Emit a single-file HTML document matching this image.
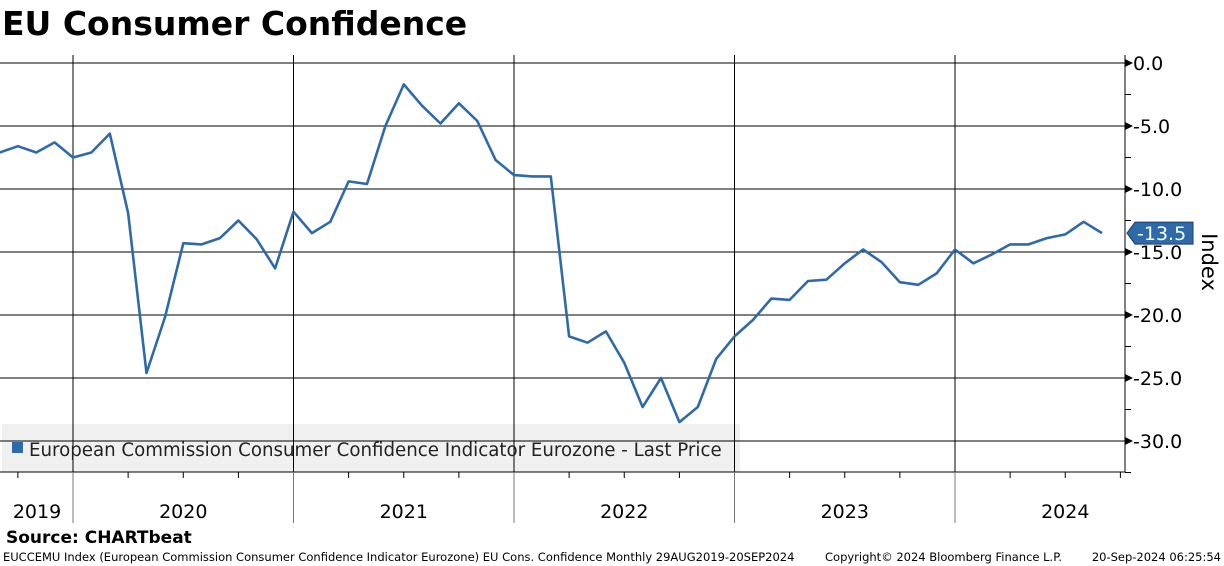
<!DOCTYPE html>
<html><head><meta charset="utf-8"><style>
body{margin:0;background:#fff;width:1224px;height:566px;overflow:hidden;font-family:"DejaVu Sans","Liberation Sans",sans-serif;}
svg{display:block}
</style></head><body>
<svg width="1224" height="566">
<text x="2" y="35" font-size="33" font-weight="bold" font-family="DejaVu Sans, sans-serif">EU Consumer Confidence</text>
<rect x="2" y="424" width="738" height="48" fill="#f0f0f0"/>
<g id="grid"></g>
<g id="xaxis"></g>
<g id="yaxis"></g>
<polyline id="line" fill="none" stroke="#2e6aa8" stroke-width="2.6" stroke-linejoin="round"/>
<rect x="12" y="442" width="11" height="11" fill="#2e6aa8"/>
<text x="29" y="456" font-size="18.2" fill="#222">European Commission Consumer Confidence Indicator Eurozone - Last Price</text>
<g id="lastlabel"></g>
<text transform="translate(1202,262) rotate(90)" text-anchor="middle" font-size="21">Index</text>
<text x="6" y="543" font-size="17" font-weight="bold">Source: CHARTbeat</text>
<text x="3" y="561" font-size="11.5">EUCCEMU Index (European Commission Consumer Confidence Indicator Eurozone) EU Cons. Confidence  Monthly 29AUG2019-20SEP2024</text>
<text x="825" y="561" font-size="11.5">Copyright© 2024 Bloomberg Finance L.P.</text>
<text x="1221" y="561" font-size="11.5" text-anchor="end">20-Sep-2024 06:25:54</text>
</svg>
<script>
const years=["2019","2020","2021","2022","2023","2024"];
const yTicks=[0,-5,-10,-15,-20,-25,-30];
const values=[-7.1,-6.6,-7.1,-6.3,-7.5,-7.1,-5.6,-11.9,-24.6,-20.2,-14.3,-14.4,-13.9,-12.5,-14.0,-16.3,-11.8,-13.5,-12.6,-9.4,-9.6,-5.0,-1.7,-3.4,-4.8,-3.2,-4.6,-7.7,-8.9,-9.0,-9.0,-21.7,-22.2,-21.3,-23.8,-27.3,-25.0,-28.5,-27.3,-23.5,-21.7,-20.4,-18.7,-18.8,-17.3,-17.2,-15.9,-14.8,-15.8,-17.4,-17.6,-16.7,-14.8,-15.9,-15.2,-14.4,-14.4,-13.9,-13.6,-12.6,-13.5];
const startMonth=8;
const NS="http://www.w3.org/2000/svg";
const MW=220.5/12, X0=73-12*MW;
const xm=m=>X0+m*MW;
const ys=v=>63-v*12.6;
const plotTop=55,plotBot=472,axX=1125;
function mk(tag,attrs,parent){const e=document.createElementNS(NS,tag);for(const k in attrs)e.setAttribute(k,attrs[k]);parent.appendChild(e);return e;}
const grid=document.getElementById('grid'),xa=document.getElementById('xaxis'),ya=document.getElementById('yaxis');
yTicks.forEach(t=>{
 const l=mk('line',{x1:0,x2:axX,y1:ys(t),y2:ys(t),stroke:'#000','stroke-width':1},grid);
 
 
 mk('path',{d:`M${axX} ${ys(t)-4} L${axX+8} ${ys(t)} L${axX} ${ys(t)+4}Z`,fill:'#000'},ya);
 const tx=mk('text',{x:axX+8,y:ys(t)+7,'font-size':19},ya);
 tx.textContent=t.toFixed(1);
 
 
 mk('line',{x1:axX,x2:axX+6,y1:ys(t-2.5),y2:ys(t-2.5),stroke:'#000'},ya);
});
mk('line',{x1:axX,x2:axX,y1:plotTop,y2:plotBot,stroke:'#000','stroke-width':1},ya);
mk('line',{x1:0,x2:axX,y1:plotBot,y2:plotBot,stroke:'#000','stroke-width':1},xa);
years.forEach((y,i)=>{
 const xs=xm(i*12);
 if(i>0){mk('line',{x1:xs,x2:xs,y1:plotTop,y2:plotBot,stroke:'#000'},grid);
  mk('line',{x1:xs,x2:xs,y1:plotBot,y2:523,stroke:'#777'},xa);}
 for(let q=1;q<4;q++){const qx=xm(i*12+q*3);if(qx>0&&qx<axX)mk('line',{x1:qx,x2:qx,y1:plotBot,y2:plotBot+6,stroke:'#000'},xa);}
 const cx=i==0?37:xs+MW*6;
 const tx=mk('text',{x:cx,y:518,'font-size':19,'text-anchor':'middle'},xa);
 tx.textContent=y;
 
 
});
document.getElementById('line').setAttribute('points',values.map((v,i)=>xm(startMonth+i).toFixed(1)+','+ys(v).toFixed(1)).join(' '));
const last=values[values.length-1],ly=ys(last),lg=document.getElementById('lastlabel');
mk('path',{d:`M${axX+2} ${ly} L${axX+10} ${ly-11} L${axX+68} ${ly-11} L${axX+68} ${ly+11} L${axX+10} ${ly+11}Z`,fill:'#2e6aa8',stroke:'#1a3f6a'},lg);
const lt=mk('text',{x:axX+12,y:ly+7,'font-size':19,fill:'#fff'},lg);
lt.textContent=last.toFixed(1);
</script>
</body></html>
